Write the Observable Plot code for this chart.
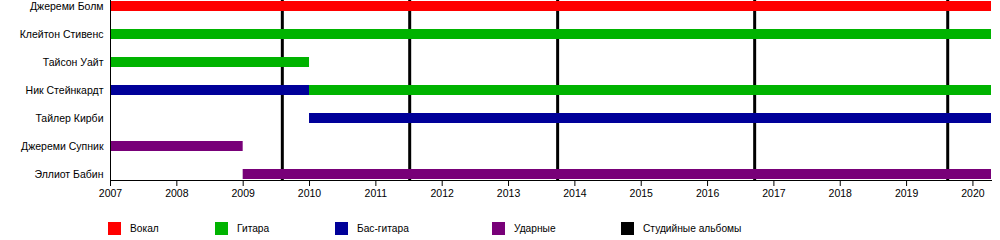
<!DOCTYPE html>
<html>
<head>
<meta charset="utf-8">
<script src="https://cdn.jsdelivr.net/npm/d3@7"></script>
<script src="https://cdn.jsdelivr.net/npm/@observablehq/plot@0.6"></script>
<style>
  body { margin: 0; background: #fff; font-family: "Liberation Sans", Arial, sans-serif; }
  #wrap { position: relative; width: 1000px; height: 240px; }
  .lg-sw { position: absolute; width: 13px; height: 13px; top: 222px; }
  .lg-tx { position: absolute; top: 222px; font-size: 10.2px; line-height: 14px; color: #000; white-space: nowrap; }
</style>
</head>
<body>
<div id="wrap"></div>
<script>
const members = ["Джереми Болм", "Клейтон Стивенс", "Тайсон Уайт", "Ник Стейнкардт", "Тайлер Кирби", "Джереми Супник", "Эллиот Бабин"];
const roles = ["Вокал", "Гитара", "Бас-гитара", "Ударные"];
const roleColors = ["#ff0000", "#00b300", "#000099", "#780078"];
const legendLabels = ["Вокал", "Гитара", "Бас-гитара", "Ударные", "Студийные альбомы"];
const legendColors = ["#ff0000", "#00b300", "#000099", "#780078", "#000000"];

const startYear = 2007;
const endYear = 2020.28;
const yearTicks = [2007, 2008, 2009, 2010, 2011, 2012, 2013, 2014, 2015, 2016, 2017, 2018, 2019, 2020];

const spanMember = ["Джереми Болм", "Клейтон Стивенс", "Тайсон Уайт", "Ник Стейнкардт", "Ник Стейнкардт", "Тайлер Кирби", "Джереми Супник", "Эллиот Бабин"];
const spanRole   = ["Вокал", "Гитара", "Гитара", "Бас-гитара", "Гитара", "Бас-гитара", "Ударные", "Ударные"];
const spanStart  = [2007, 2007, 2007, 2007, 2010.0, 2010.0, 2007, 2009.0];
const spanEnd    = [endYear, endYear, 2010.0, 2010.0, endYear, endYear, 2009.0, endYear];

const albums = [2009.59, 2011.51, 2013.74, 2016.71, 2019.62];

const spans = spanMember.map((m, i) => ({member: m, role: spanRole[i], start: spanStart[i], end: spanEnd[i]}));

const chart = Plot.plot({
  width: 1000,
  height: 210,
  marginLeft: 110,
  marginRight: 9,
  marginTop: 0,
  marginBottom: 30,
  style: {fontFamily: "'Liberation Sans', Arial, sans-serif", fontSize: "10.5px", color: "#000", background: "#fff"},
  x: {domain: [startYear, endYear], label: null},
  y: {domain: members, paddingInner: 0.647, paddingOuter: 0, label: null},
  color: {domain: roles, range: roleColors},
  marks: [
    Plot.ruleX(albums, {x: d => d, stroke: "#000", strokeWidth: 3}),
    Plot.barX(spans, {x1: "start", x2: "end", y: "member", fill: "role"}),
    Plot.frame({anchor: "left", stroke: "#000"}),
    Plot.frame({anchor: "bottom", stroke: "#000"}),
    Plot.axisX({ticks: yearTicks, tickFormat: d => String(d), tickSize: 6, tickPadding: 3, label: null, stroke: "#000", fill: "#000", fontSize: 10.5}),
    Plot.axisY({tickSize: 0, tickPadding: 7, label: null, fill: "#000", fontSize: 10.5})
  ]
});

const wrap = document.getElementById("wrap");
wrap.appendChild(chart);

const swatchX = [108, 215, 335, 492, 621];
legendLabels.forEach((lab, i) => {
  const sw = document.createElement("div");
  sw.className = "lg-sw";
  sw.style.left = swatchX[i] + "px";
  sw.style.background = legendColors[i];
  wrap.appendChild(sw);
  const tx = document.createElement("div");
  tx.className = "lg-tx";
  tx.style.left = (swatchX[i] + 22) + "px";
  tx.textContent = lab;
  wrap.appendChild(tx);
});
</script>
</body>
</html>
